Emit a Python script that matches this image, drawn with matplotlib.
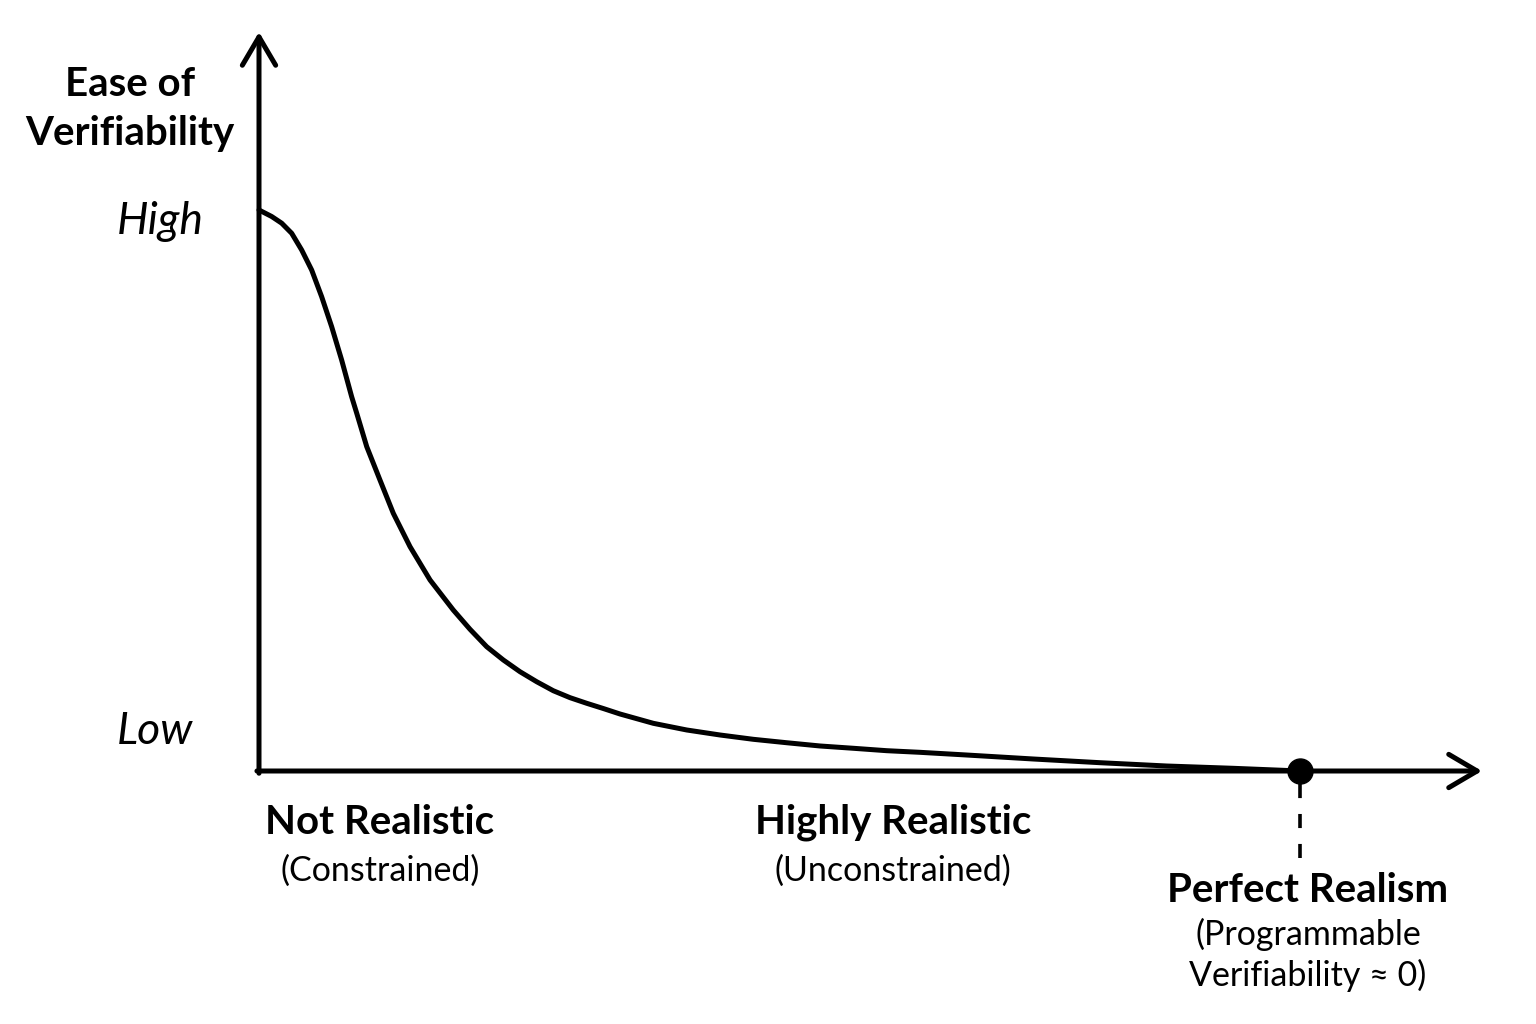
import matplotlib
matplotlib.use("Agg")
import matplotlib.pyplot as plt

plt.rcParams['font.family'] = ['Lato', 'DejaVu Sans']

# Curve: realism (0 = not realistic, 1 = perfect realism) vs ease of verifiability (0..1)
realism = [0.0, 0.0122, 0.0218, 0.0314, 0.0410, 0.0506, 0.0602, 0.0698, 0.0794, 0.0890,
           0.0939, 0.1035, 0.1162, 0.1290, 0.1451, 0.1643, 0.1866, 0.2027, 0.2187, 0.2347,
           0.2507, 0.2667, 0.2827, 0.2988, 0.3148, 0.3307, 0.3468, 0.3788, 0.4109, 0.4428,
           0.4748, 0.5069, 0.5389, 0.5709, 0.6030, 0.6350, 0.6798, 0.7438, 0.8079, 0.8719,
           0.9359, 1.0]
verifiability = [1.0, 0.9884, 0.9765, 0.9585, 0.9287, 0.8930, 0.8454, 0.7920, 0.7326, 0.6672,
                 0.6376, 0.5781, 0.5187, 0.4594, 0.3998, 0.3405, 0.2870, 0.2526, 0.2216, 0.1979,
                 0.1770, 0.1592, 0.1431, 0.1307, 0.1207, 0.1114, 0.1016, 0.0850, 0.0731, 0.0642,
                 0.0565, 0.0504, 0.0446, 0.0405, 0.0362, 0.0333, 0.0285, 0.0214, 0.0148, 0.0089,
                 0.0048, 0.0]

y_label_lines = ["Ease of", "Verifiability"]
y_levels = ["High", "Low"]
x_categories = ["Not Realistic", "Highly Realistic", "Perfect Realism"]
x_subtitles = [["(Constrained)"], ["(Unconstrained)"],
               ["(Programmable", "Verifiability \u2248 0)"]]
endpoint = (1.0, 0.0)

W, H = 1536, 1024
fig = plt.figure(figsize=(W / 100, H / 100), dpi=100)
ox, oy = 259, 771
ux, uy = 1041, 561
ax = fig.add_axes([ox / W, (H - oy) / H, ux / W, uy / H])
ax.set_xlim(0, 1)
ax.set_ylim(0, 1)
ax.axis('off')


def P(px, py):
    """pixel position -> axes data position (for text placement)"""
    return (px - ox) / ux, (oy - py) / uy


lw = 3.6
# axes with arrows
x_tip = P(1482, 0)[0]
y_tip = P(0, 32)[1]
arrow_kw = dict(arrowstyle='->,head_length=0.85,head_width=0.5', lw=lw, color='black',
                shrinkA=0, shrinkB=0, mutation_scale=24)
ax.annotate('', xy=(x_tip, 0), xytext=(-0.002, 0), annotation_clip=False, arrowprops=arrow_kw)
ax.annotate('', xy=(0, y_tip), xytext=(0, -0.004), annotation_clip=False, arrowprops=arrow_kw)

# curve
ax.plot(realism, verifiability, color='black', lw=lw, clip_on=False,
        solid_capstyle='round', solid_joinstyle='round')

# endpoint marker and dashed drop line
ax.plot([endpoint[0]], [endpoint[1]], 'o', color='black', markersize=18, clip_on=False, zorder=5)
ax.plot([endpoint[0], endpoint[0]], [P(0, 784)[1], P(0, 858)[1]], color='black',
        lw=2.6, linestyle=(0, (3.9, 4.4)), clip_on=False, solid_capstyle='butt')

# y label
for line, py in zip(y_label_lines, [85, 133]):
    ax.text(*P(130, py), line, ha='center', va='center', fontsize=29, fontweight='bold')

# y levels
for lab, py in zip(y_levels, [222, 731]):
    ax.text(*P(117, py), lab, ha='left', va='center', fontsize=32, fontstyle='italic')

# x categories
cat_x = [380, 893, 1308]
title_y = [822, 822, 890]
sub_y = [[871], [871], [934, 975]]
for cat, subs, cx, ty, sys_ in zip(x_categories, x_subtitles, cat_x, title_y, sub_y):
    ax.text(*P(cx, ty), cat, ha='center', va='center', fontsize=29, fontweight='bold')
    for s, sy in zip(subs, sys_):
        ax.text(*P(cx, sy), s, ha='center', va='center', fontsize=24.5)

fig.savefig('out.png', dpi=100, facecolor='white')
